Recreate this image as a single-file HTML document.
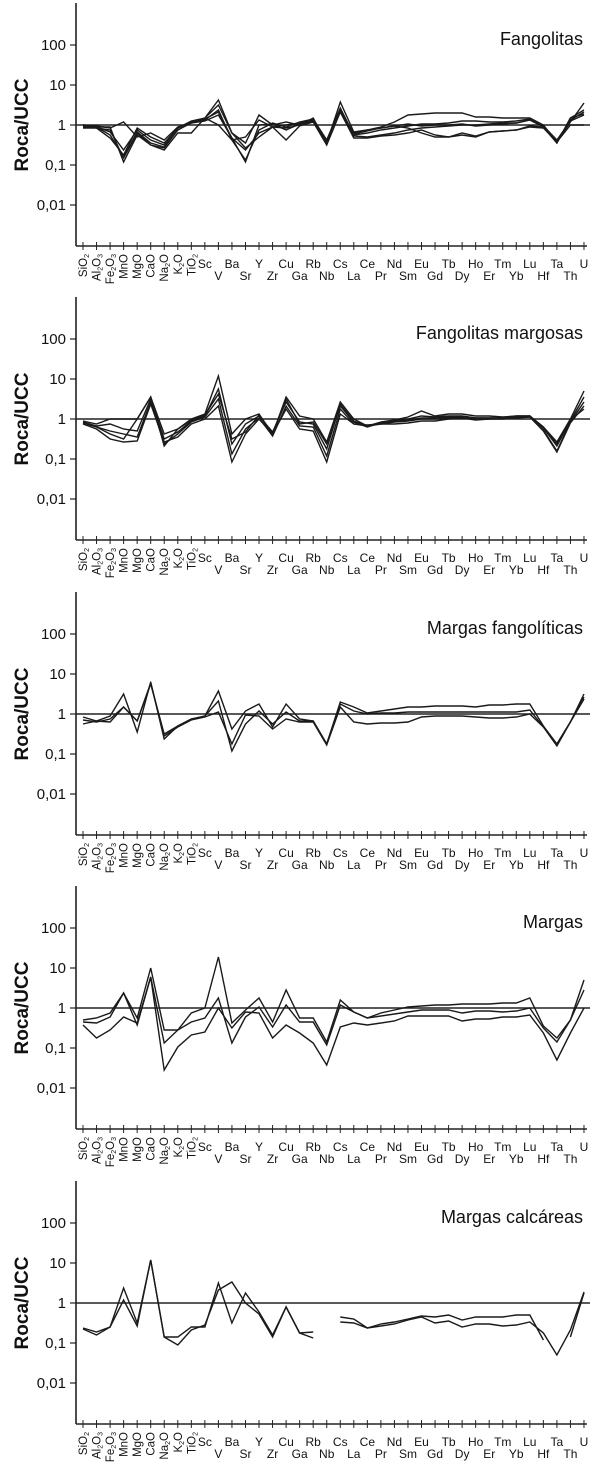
<!DOCTYPE html>
<html><head><meta charset="utf-8"><style>
html,body{margin:0;padding:0;background:#fff;}
svg{display:block;font-family:"Liberation Sans",Arial,sans-serif;}
</style></head><body>
<svg id="s" width="606" height="1467" viewBox="0 0 606 1467" xmlns="http://www.w3.org/2000/svg"></svg>
<script>
var NS="http://www.w3.org/2000/svg",S=document.getElementById('s');
function el(t,a,txt,par){var e=document.createElementNS(NS,t);for(var k in a)e.setAttribute(k,a[k]);if(txt!=null)e.textContent=txt;(par||S).appendChild(e);return e;}
var X=function(i){return 83+i*13.54;};
var oxides=[["SiO","2",""],["Al","2","O","3"],["Fe","2","O","3"],["MnO"],["MgO"],["CaO"],["Na","2","O"],["K","2","O"],["TiO","2"]];
var els=["Sc","V","Ba","Sr","Y","Zr","Cu","Ga","Rb","Nb","Cs","La","Ce","Pr","Nd","Sm","Eu","Gd","Tb","Dy","Ho","Er","Tm","Yb","Lu","Hf","Ta","Th","U"];
var titles=["Fangolitas","Fangolitas margosas","Margas fangolíticas","Margas","Margas calcáreas"];
var offs=[0,294,589,883,1178];
var N=null;
var data=[
[[125,126,128,122,137,133,140,127,123,118,100,133,143,115,125,122,125,118,143,102,132,130,127,122,115,114,113,113,113,117,117,118,118,118,125,142,122,103],
[126,127,132,150,130,140,145,128,122,120,110,140,137,120,127,125,123,120,140,108,135,133,130,128,126,124,124,123,121,121,122,122,121,119,126,141,120,112],
[127,127,135,157,132,143,147,130,123,121,115,138,162,125,124,130,124,121,143,110,136,137,135,133,130,128,127,126,125,125,124,123,123,120,127,143,118,114],
[126,128,138,155,128,137,143,128,121,118,105,133,148,137,127,140,126,122,145,112,138,138,136,135,133,130,135,137,133,136,132,131,130,127,128,142,125,125],
[125,127,127,162,135,145,150,133,133,118,125,140,160,130,123,127,122,119,140,112,133,130,128,126,128,133,137,137,135,137,132,131,130,126,127,143,118,110],
[128,128,130,158,133,145,148,130,122,119,112,138,150,133,127,128,125,121,143,110,134,131,128,126,124,126,125,125,124,126,125,124,123,120,126,140,121,115]],
[[127,130,125,125,125,103,140,135,125,120,82,140,125,120,140,103,122,125,148,108,125,132,128,126,123,117,122,120,120,122,122,123,122,122,133,148,125,97],
[128,132,130,135,137,105,145,138,127,122,95,150,130,122,138,108,128,130,155,110,127,132,129,127,125,122,123,122,122,124,124,124,123,122,134,152,127,103],
[129,133,137,140,143,108,150,140,128,123,105,160,135,124,142,112,132,133,162,115,130,132,130,128,127,125,125,124,124,125,125,124,123,123,136,157,128,108],
[130,135,145,148,147,110,148,143,130,125,112,168,140,125,140,115,135,137,168,120,130,131,130,130,129,127,127,125,124,126,125,125,124,123,137,158,129,112],
[129,133,140,145,125,103,152,135,126,121,100,145,138,121,141,105,130,128,150,112,128,133,129,127,126,124,124,123,123,124,124,124,122,122,133,150,126,115]],
[[128,132,127,105,143,93,150,137,130,127,102,140,122,115,138,115,130,132,155,113,118,124,122,120,118,118,117,117,117,118,116,116,115,115,137,155,133,105],
[135,132,133,118,132,95,145,137,130,127,112,162,135,122,135,123,132,132,155,115,122,125,124,124,123,123,123,123,123,123,123,123,123,121,138,157,133,110],
[131,133,130,118,132,94,147,138,131,128,123,155,126,127,140,130,133,133,156,118,133,135,134,134,133,128,127,127,127,128,129,129,128,125,138,155,133,108]],
[[137,135,130,110,135,85,147,147,130,125,74,140,127,115,139,107,135,135,159,117,129,135,130,127,124,123,122,122,121,121,121,120,120,115,143,155,137,97],
[139,140,134,110,142,94,160,147,139,135,115,160,134,124,144,122,139,139,162,122,129,135,133,131,129,127,127,127,130,128,128,129,128,125,145,159,137,107],
[142,155,147,134,140,94,187,164,152,149,125,145,129,130,155,142,150,160,182,144,140,142,140,138,133,133,133,133,138,136,136,134,134,132,150,177,150,125]],
[[150,154,149,110,145,82,159,159,149,149,105,145,115,134,157,129,155,154,N,139,141,150,146,144,141,138,139,137,142,139,139,139,137,137,162,N,N,N],
[151,157,149,122,148,82,159,167,152,147,112,104,125,136,159,129,155,160,N,144,145,150,148,146,142,139,145,143,149,146,146,148,147,144,155,177,152,114],
[N,N,N,N,N,N,N,N,N,N,N,N,N,N,N,N,N,N,N,N,N,N,N,N,N,N,N,N,N,N,N,N,N,N,N,N,159,115]]
];
for(var p=0;p<5;p++){
  var g=el('g',{transform:'translate(0,'+offs[p]+')'});
  el('line',{x1:76,y1:3,x2:76,y2:246,stroke:'#222','stroke-width':1.6},null,g);
  el('line',{x1:76,y1:246,x2:587,y2:246,stroke:'#222','stroke-width':1.6},null,g);
  for(var i=0;i<38;i++) el('line',{x1:X(i),y1:242,x2:X(i),y2:250,stroke:'#222','stroke-width':1},null,g);
  var yl=["100","10","1","0,1","0,01"];
  for(var k=0;k<5;k++){var yy=45+40*k;
    el('line',{x1:70,y1:yy,x2:76,y2:yy,stroke:'#222','stroke-width':1.2},null,g);
    el('text',{x:66,y:yy+5,'text-anchor':'end','font-size':15,fill:'#111'},yl[k],g);}
  el('text',{x:0,y:0,transform:'translate(28,125) rotate(-90)','text-anchor':'middle','font-size':19,'font-weight':'bold',fill:'#111'},'Roca/UCC',g);
  el('text',{x:583,y:45,'text-anchor':'end','font-size':18,fill:'#111'},titles[p],g);
  el('line',{x1:76,y1:125,x2:590,y2:125,stroke:'#222','stroke-width':1.5},null,g);
  for(var i=0;i<9;i++){
    var o=oxides[i];
    var t=el('text',{x:0,y:0,transform:'translate('+(X(i)+4)+',254) rotate(-90)','text-anchor':'end','font-size':11.5,fill:'#111'},null,g);
    for(var j=0;j<o.length;j++){
      var ts=el('tspan',(j%2==1)?{'font-size':7,dy:2}:(j>0?{dy:-2}:{}),o[j],t);
    }
  }
  for(var i=0;i<els.length;i++){
    var idx=i+9;
    el('text',{x:X(idx),y:(idx%2==1)?268:280,'text-anchor':'middle','font-size':12,fill:'#111'},els[i],g);
  }
  var ser=data[p];
  for(var s=0;s<ser.length;s++){
    var d='',pen=false;
    for(var i=0;i<38;i++){var v=ser[s][i];
      if(v==null){pen=false;continue;}
      d+=(pen?'L':'M')+X(i).toFixed(1)+' '+v+' ';pen=true;}
    el('path',{d:d,fill:'none',stroke:'#1a1a1a','stroke-width':1.4,'stroke-linejoin':'miter'},null,g);
  }
}
</script>
</body></html>
